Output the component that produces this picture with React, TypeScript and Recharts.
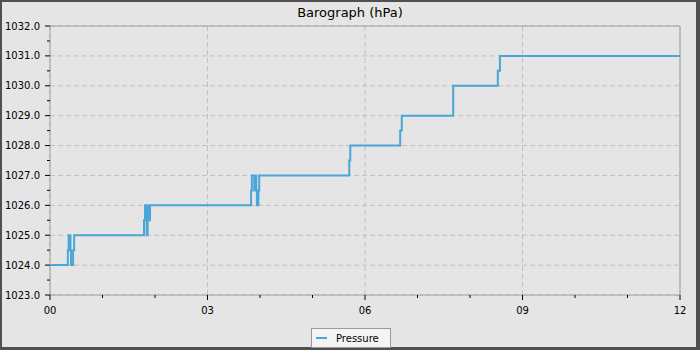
import React from 'react';
import {
  LineChart,
  Line,
  XAxis,
  YAxis,
  CartesianGrid,
  Legend,
  ReferenceLine,
} from 'recharts';

// hours since start, and pressure reading (hPa) from that moment on
const hours = [
  0, 0.34, 0.355, 0.39, 0.4, 0.44, 0.46,
  1.79, 1.81, 1.84, 1.86, 1.875, 1.89, 1.905,
  3.83, 3.845, 3.89, 3.9, 3.93, 3.94, 3.97, 3.985,
  5.7, 5.72, 6.67, 6.7, 7.68, 8.53, 8.57, 12,
];
const pressure = [
  1024, 1024.5, 1025, 1024.5, 1024, 1024.5, 1025,
  1025.5, 1026, 1025, 1025.5, 1026, 1025.5, 1026,
  1026.5, 1027, 1026.5, 1027, 1026.5, 1026, 1026.5, 1027,
  1027.5, 1028, 1028.5, 1029, 1030, 1030.5, 1031, 1031,
];

const xTicks = [0, 1, 2, 3, 4, 5, 6, 7, 8, 9, 10, 11, 12];
const xMajor = [0, 3, 6, 9, 12];
const yTicks = [
  1023, 1023.5, 1024, 1024.5, 1025, 1025.5, 1026, 1026.5, 1027, 1027.5,
  1028, 1028.5, 1029, 1029.5, 1030, 1030.5, 1031, 1031.5, 1032,
];
const yMajor = [1023, 1024, 1025, 1026, 1027, 1028, 1029, 1030, 1031, 1032];

const data = hours.map((h, i) => ({ h, pressure: pressure[i] }));

const LINE = '#4aa6d8';
const AXIS = '#a0a0a0';
const FONT = '"DejaVu Sans", sans-serif';

const XTick = ({ x, y, payload }: any) => {
  const major = payload.value % 3 === 0;
  return (
    <g>
      <line x1={x} x2={x} y1={y} y2={y + (major ? 5 : 3)} stroke="#000" />
      {major && (
        <text x={x} y={y + 19} textAnchor="middle" fontSize={10} fill="#000" fontFamily={FONT}>
          {String(payload.value).padStart(2, '0')}
        </text>
      )}
    </g>
  );
};

const YTick = ({ x, y, payload }: any) => {
  const major = payload.value % 1 === 0;
  return (
    <g>
      <line x1={x - (major ? 5 : 3)} x2={x} y1={y} y2={y} stroke="#000" />
      {major && (
        <text x={x - 10} y={y + 3.6} textAnchor="end" fontSize={10} fill="#000" fontFamily={FONT}>
          {payload.value.toFixed(1)}
        </text>
      )}
    </g>
  );
};

const LegendBox = () => (
  <div
    style={{
      width: 78,
      height: 18,
      border: '1px solid #999',
      background: '#f4f4f4',
      display: 'flex',
      alignItems: 'center',
      fontSize: 10,
      fontFamily: FONT,
      color: '#000',
    }}
  >
    <span style={{ width: 11, height: 2, background: LINE, marginLeft: 4, marginRight: 9 }} />
    Pressure
  </div>
);

export default function App() {
  return (
    <div
      style={{
        position: 'absolute',
        left: 0,
        top: 0,
        width: 700,
        height: 350,
        boxSizing: 'border-box',
        borderStyle: 'solid',
        borderColor: '#505050',
        borderWidth: '2px 4px 3px 2px',
        background: '#e5e5e5',
        fontFamily: FONT,
      }}
    >
      <div
        style={{
          position: 'absolute',
          left: -2,
          top: 3,
          width: 700,
          textAlign: 'center',
          fontSize: 13,
          lineHeight: '16px',
          color: '#000',
        }}
      >
        Barograph (hPa)
      </div>
      <LineChart
        width={694}
        height={345}
        data={data}
        margin={{ top: 24, right: 16, left: 0, bottom: 0 }}
      >
        <CartesianGrid
          stroke="#c0c0c0"
          strokeDasharray="5 3"
          horizontalValues={yMajor}
          verticalValues={xMajor}
        />
        <XAxis
          dataKey="h"
          type="number"
          domain={[0, 12]}
          ticks={xTicks}
          interval={0}
          height={52}
          tickSize={0}
          tickMargin={0}
          tickLine={false}
          axisLine={{ stroke: AXIS }}
          tick={<XTick />}
        />
        <YAxis
          type="number"
          domain={[1023, 1032]}
          ticks={yTicks}
          interval={0}
          width={48}
          tickSize={0}
          tickMargin={0}
          tickLine={false}
          axisLine={{ stroke: AXIS }}
          tick={<YTick />}
        />
        <ReferenceLine y={1032} stroke={AXIS} />
        <ReferenceLine x={12} stroke={AXIS} />
        <Line
          type="stepAfter"
          dataKey="pressure"
          stroke={LINE}
          strokeWidth={2}
          dot={false}
          isAnimationActive={false}
        />
        <Legend
          layout="horizontal"
          verticalAlign="middle"
          align="center"
          wrapperStyle={{ left: 309, top: 326, width: 80 }}
          content={<LegendBox />}
        />
      </LineChart>
    </div>
  );
}
